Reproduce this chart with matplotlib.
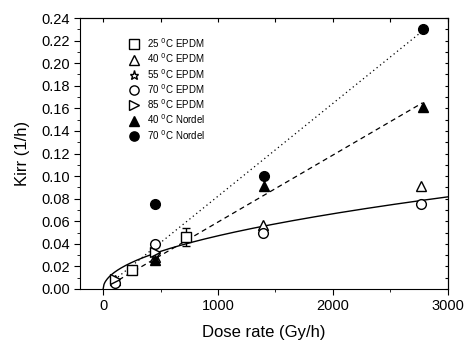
import matplotlib
matplotlib.use('Agg')
import matplotlib.pyplot as plt
from matplotlib.ticker import MultipleLocator
import numpy as np

plt.rcParams['font.family'] = ['Liberation Sans', 'DejaVu Sans']

# data
x_25 = [250, 720]
y_25 = [0.017, 0.046]
e_25 = [0.0, 0.008]
x_40 = [100, 450, 1390, 2770]
y_40 = [0.008, 0.028, 0.057, 0.091]
x_55 = [450]
y_55 = [0.030]
x_70 = [100, 450, 1390, 2770]
y_70 = [0.005, 0.040, 0.050, 0.075]
x_85 = [100, 450]
y_85 = [0.009, 0.033]
x_40n = [450, 1400, 2780]
y_40n = [0.026, 0.091, 0.161]
x_70n = [450, 1400, 2780]
y_70n = [0.075, 0.100, 0.230]

# power-law fit of the EPDM data (y = a * x^b)
fit_a = 0.00149
fit_b = 0.5

fig = plt.figure(figsize=(4.66, 3.4), dpi=100)
ax = fig.add_axes([0.172, 0.15, 0.789, 0.797])

# lines through origin for Nordel
def slope0(x, y):
    x = np.array(x, float); y = np.array(y, float)
    return (x * y).sum() / (x * x).sum()

xl = np.linspace(70, 2780, 50)
ax.plot(xl, slope0(x_70n, y_70n) * xl, color='black', ls=(0, (1, 2.5)), lw=0.9)
ax.plot(xl, slope0(x_40n, y_40n) * xl, color='black', ls=(0, (4, 3)), lw=0.9)

xs = np.linspace(0, 3000, 400)
ax.plot(xs, fit_a * xs ** fit_b, color='black', lw=1.0)

mk = dict(color='black', ls='none', ms=7, mew=1.0)
ax.errorbar(x_25, y_25, yerr=e_25, fmt='none', ecolor='black', capsize=3,
            elinewidth=1)
ax.plot(x_25, y_25, marker='s', mfc='white', label=r'25 $^0$C EPDM', **mk)
ax.plot(x_40, y_40, marker='^', mfc='white', label=r'40 $^0$C EPDM', **mk)
ax.plot(x_55, y_55, marker='*', mfc='white', label=r'55 $^0$C EPDM', **mk)
ax.plot(x_70, y_70, marker='o', mfc='white', label=r'70 $^0$C EPDM', **mk)
ax.plot(x_85, y_85, marker='>', mfc='white', label=r'85 $^0$C EPDM', **mk)
ax.plot(x_40n, y_40n, marker='^', mfc='black', label=r'40 $^0$C Nordel', **mk)
ax.plot(x_70n, y_70n, marker='o', mfc='black', label=r'70 $^0$C Nordel', **mk)

ax.set_xlim(-200, 3000)
ax.set_ylim(0, 0.24)
ax.xaxis.set_major_locator(MultipleLocator(1000))
ax.xaxis.set_minor_locator(MultipleLocator(500))
ax.yaxis.set_major_locator(MultipleLocator(0.02))
ax.yaxis.set_minor_locator(MultipleLocator(0.01))
ax.yaxis.set_major_formatter(plt.FormatStrFormatter('%.2f'))
ax.tick_params(which='both', direction='out', labelsize=10.5)
ax.tick_params(which='major', length=4)
ax.tick_params(which='minor', length=2.5)

# mirrored inward ticks on top and right
axt = ax.secondary_xaxis('top')
axt.xaxis.set_major_locator(MultipleLocator(500))
axt.tick_params(direction='in', length=3, labeltop=False)
axr = ax.secondary_yaxis('right')
axr.yaxis.set_major_locator(MultipleLocator(0.01))
axr.tick_params(direction='in', length=2.5, labelright=False)

ax.set_xlabel('Dose rate (Gy/h)', fontsize=12, labelpad=8)
ax.set_ylabel('Kirr (1/h)', fontsize=12, labelpad=8)

ax.legend(loc='upper left', bbox_to_anchor=(0.11, 0.965), frameon=False,
          fontsize=7, handletextpad=0.8, labelspacing=0.15, markerscale=0.95,
          handlelength=1.0, handleheight=0.9, numpoints=1)

fig.savefig('out.png', dpi=100)
